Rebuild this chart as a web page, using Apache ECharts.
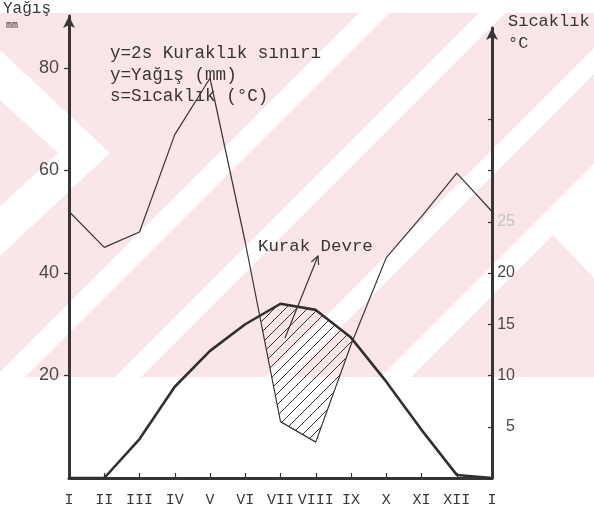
<!DOCTYPE html>
<html>
<head>
<meta charset="utf-8">
<script src="https://cdn.jsdelivr.net/npm/echarts@6/dist/echarts.min.js"></script>
<style>
html,body{margin:0;padding:0;background:#fff;}
#chart{width:594px;height:516px;}
</style>
</head>
<body>
<div id="chart"></div>
<script>
// ---- data ----
const months = ['I','II','III','IV','V','VI','VII','VIII','IX','X','XI','XII','I'];
const precipitation = [52, 45, 48, 67, 78, 46, 11, 7, 26, 43, 51, 59.5, 52];   // mm
const temperature   = [0, 0, 3.8, 8.9, 12.4, 15.0, 17.0, 16.4, 13.7, 9.4, 4.7, 0.3, 0]; // °C
const mmTicks = [20, 40, 60, 80];
const tempTicks = [5, 10, 15, 20, 25, 30, 35];
const tempLabels = [5, 10, 15, 20, 25];

// ---- layout ----
const W = 594, H = 516;
const gLeft = 69, gRight = 102, gBottom = 38;
const topL = 16, topR = 28;
const pxPerMm = 5.125;
const zeroY = H - gBottom;
const maxMm = (zeroY - topL) / pxPerMm;
const maxT = (zeroY - topR) / (pxPerMm * 2);

const ink = '#363636';
const mono = '"Liberation Mono", "DejaVu Sans Mono", monospace';
const sans = '"Liberation Sans", Arial, sans-serif';

// dry period polygon: where 2s > y
function dryPolygon() {
  const upper = [], lower = [];
  const n = months.length;
  for (let i = 0; i < n; i++) {
    const t = 2 * temperature[i], p = precipitation[i];
    if (t > p) { upper.push([i, t]); lower.push([i, p]); }
    if (i < n - 1) {
      const d0 = t - p, d1 = 2 * temperature[i + 1] - precipitation[i + 1];
      if (d0 * d1 < 0) {
        const f = d0 / (d0 - d1);
        const yc = p + f * (precipitation[i + 1] - p);
        upper.push([i + f, yc]); lower.push([i + f, yc]);
      }
    }
  }
  return upper.concat(lower.reverse());
}
const poly = dryPolygon();

// hatch pattern
const hc = document.createElement('canvas');
const hs = 11;
hc.width = hs; hc.height = hs;
const hctx = hc.getContext('2d');
hctx.strokeStyle = '#333'; hctx.lineWidth = 1;
hctx.beginPath();
hctx.moveTo(-1, hs + 1); hctx.lineTo(hs + 1, -1);
hctx.moveTo(-1, 1); hctx.lineTo(1, -1);
hctx.moveTo(hs - 1, hs + 1); hctx.lineTo(hs + 1, hs - 1);
hctx.stroke();

// watermark background (scanned page)
const pink = '#fae5e8';
const bgTop = 13, bgBot = 377;
function band(a, b) {
  return [[a - bgTop, bgTop], [b - bgTop, bgTop], [b - bgBot, bgBot], [a - bgBot, bgBot]];
}
const wm = [
  {type:'rect', shape:{x:0, y:bgTop, width:W, height:bgBot - bgTop}, style:{fill:pink}, z:-10, silent:true},
  {type:'polygon', shape:{points:[[0,50],[110,153],[0,256],[0,206],[58,153],[0,100]]}, style:{fill:'#fff'}, z:-9, silent:true},
  {type:'polygon', shape:{points:band(372,402)}, style:{fill:'#fff'}, z:-9, silent:true},
  {type:'polygon', shape:{points:band(492,518)}, style:{fill:'#fff'}, z:-9, silent:true},
  {type:'polygon', shape:{points:band(642,668)}, style:{fill:'#fff'}, z:-9, silent:true},
  {type:'polygon', shape:{points:band(758,788)}, style:{fill:'#fff'}, z:-9, silent:true},
  {type:'polygon', shape:{points:[[552,234],[594,192],[594,278]]}, style:{fill:'#fff'}, z:-9, silent:true}
];

// arrow for "Kurak Devre"
const a0 = [285, 338], a1 = [318, 256];
const ang = Math.atan2(a1[1] - a0[1], a1[0] - a0[0]);
const hl = 9, hw = 0.45;
const head = [
  [a1[0] - hl * Math.cos(ang - hw), a1[1] - hl * Math.sin(ang - hw)],
  a1,
  [a1[0] - hl * Math.cos(ang + hw), a1[1] - hl * Math.sin(ang + hw)]
];

const texts = [
  {left:3, top:1, text:'Yağış', font:'16px ' + mono},
  {left:6, top:20, text:'mm', font:'10px ' + mono},
  {left:110, top:44, text:'y=2s Kuraklık sınırı', font:'17.6px ' + mono},
  {left:110, top:66, text:'y=Yağış (mm)', font:'17.6px ' + mono},
  {left:110, top:87, text:'s=Sıcaklık (°C)', font:'17.6px ' + mono},
  {left:508, top:13, text:'Sıcaklık', font:'17px ' + mono},
  {left:508, top:35, text:'°C', font:'17px ' + mono},
  {left:258, top:238, text:'Kurak Devre', font:'17.4px ' + mono}
].map(t => ({type:'text', left:t.left, top:t.top, z:50, silent:true,
  style:{text:t.text, font:t.font, fill:ink}}));

const graphics = wm.concat(texts).concat([
  {type:'polyline', shape:{points:[a0, a1]}, style:{stroke:ink, lineWidth:1.2, fill:null}, z:50, silent:true},
  {type:'polyline', shape:{points:head}, style:{stroke:ink, lineWidth:1.2, fill:null}, z:50, silent:true}
]);

const chart = echarts.init(document.getElementById('chart'), null, {renderer:'canvas'});
chart.setOption({
  animation: false,
  backgroundColor: '#fff',
  graphic: graphics,
  grid: [
    {left:gLeft, right:gRight, top:topL, bottom:gBottom},
    {left:gLeft, right:gRight, top:topR, bottom:gBottom}
  ],
  xAxis: [
    {type:'value', gridIndex:0, min:0, max:12, interval:1,
     axisLine:{show:true, lineStyle:{color:ink, width:3}},
     axisTick:{show:true, inside:true, length:5, lineStyle:{color:ink, width:1.2}},
     axisLabel:{show:true, margin:15, color:ink, fontFamily:mono, fontSize:15,
       formatter: v => months[Math.round(v)] || ''},
     splitLine:{show:false}},
    {type:'value', gridIndex:1, min:0, max:12, interval:1, show:false}
  ],
  yAxis: [
    {type:'value', gridIndex:0, min:0, max:maxMm, position:'left',
     axisLine:{show:true, onZero:false, lineStyle:{color:ink, width:3}, symbol:['none','arrow'], symbolSize:[9,12]},
     axisTick:{show:true, length:5, customValues:mmTicks, lineStyle:{color:ink, width:1.2}},
     axisLabel:{show:true, margin:10, color:'#4a4a4a', fontFamily:sans, fontSize:18, customValues:mmTicks,
       formatter: v => mmTicks.indexOf(v) >= 0 ? String(v) : ''},
     splitLine:{show:false}},
    {type:'value', gridIndex:1, min:0, max:maxT, position:'right',
     axisLine:{show:true, onZero:false, lineStyle:{color:ink, width:3}, symbol:['none','arrow'], symbolSize:[9,12]},
     axisTick:{show:true, inside:true, length:4, customValues:tempTicks, lineStyle:{color:ink, width:1.2}},
     axisLabel:{show:true, margin:23, align:'right', color:'#4a4a4a', fontFamily:sans, fontSize:16, customValues:tempLabels,
       formatter: v => v === 25 ? '{f|25}' : (tempLabels.indexOf(v) >= 0 ? String(v) : ''),
       rich:{f:{color:'#c4c4c4', fontFamily:sans, fontSize:16}}},
     splitLine:{show:false}}
  ],
  series: [
    {type:'custom', xAxisIndex:0, yAxisIndex:0, silent:true, z:1,
     data:[[0,0]],
     renderItem: (params, api) => ({
       type:'polygon',
       shape:{points: poly.map(p => api.coord(p))},
       style:{fill:{image:hc, repeat:'repeat'}, stroke:null}
     })},
    {name:'Yağış', type:'line', xAxisIndex:0, yAxisIndex:0, z:3,
     data: precipitation.map((v, i) => [i, v]),
     showSymbol:false, symbol:'none',
     lineStyle:{color:ink, width:1.2}},
    {name:'Sıcaklık', type:'line', xAxisIndex:1, yAxisIndex:1, z:4,
     data: temperature.map((v, i) => [i, v]),
     showSymbol:false, symbol:'none',
     lineStyle:{color:'#303030', width:2.6}}
  ]
});
</script>
</body>
</html>
